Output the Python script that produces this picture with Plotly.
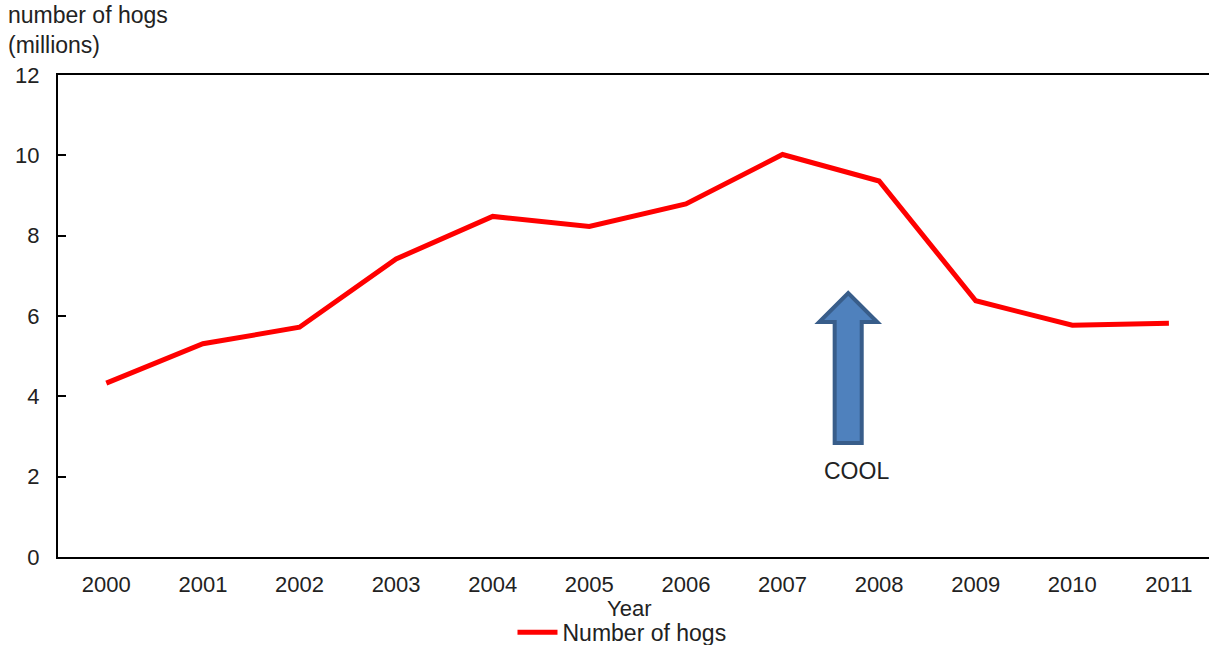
import plotly.graph_objects as go

# Hog inventory by year
years = ["2000", "2001", "2002", "2003", "2004", "2005",
         "2006", "2007", "2008", "2009", "2010", "2011"]
hogs_millions = [4.33, 5.31, 5.72, 7.42, 8.48, 8.23, 8.79, 10.02, 9.36, 6.38, 5.77, 5.82]

y_ticks = [0, 2, 4, 6, 8, 10, 12]

# COOL arrow marker (category index / millions)
arrow_x = 7.68
arrow_bottom = 2.84
arrow_head_base = 5.85
arrow_tip = 6.57
arrow_shaft_half = 0.14
arrow_head_half = 0.30
cool_label_y = 2.15

FONT = "Liberation Sans, Arial, sans-serif"
TXT = "#222222"

fig = go.Figure()
fig.add_trace(go.Scatter(
    x=list(range(len(years))), y=hogs_millions, mode="lines",
    name="Number of hogs",
    line=dict(color="#FF0000", width=5),
))

ax = arrow_x
path = (
    f"M {ax - arrow_shaft_half} {arrow_bottom} "
    f"L {ax - arrow_shaft_half} {arrow_head_base} "
    f"L {ax - arrow_head_half} {arrow_head_base} "
    f"L {ax} {arrow_tip} "
    f"L {ax + arrow_head_half} {arrow_head_base} "
    f"L {ax + arrow_shaft_half} {arrow_head_base} "
    f"L {ax + arrow_shaft_half} {arrow_bottom} Z"
)
fig.add_shape(type="path", path=path, xref="x", yref="y",
              fillcolor="#4F81BD", line=dict(color="#385D8A", width=4))

fig.add_annotation(x=ax + 0.09, y=cool_label_y, xref="x", yref="y",
                   text="COOL", showarrow=False,
                   font=dict(family=FONT, size=23, color=TXT))

fig.add_annotation(x=0, y=1, xref="paper", yref="paper",
                   text="number of hogs<br>(millions)", showarrow=False,
                   xanchor="left", yanchor="top", align="left",
                   xshift=-52, yshift=75,
                   font=dict(family=FONT, size=23, color=TXT))

fig.add_annotation(x=0.496, y=-0.106, xref="paper", yref="paper",
                   text="Year", showarrow=False,
                   xanchor="center", yanchor="middle",
                   font=dict(family=FONT, size=22, color=TXT))

fig.update_layout(
    width=1209, height=645,
    margin=dict(l=58, r=0, t=75, b=88, autoexpand=False),
    paper_bgcolor="white", plot_bgcolor="white",
    font=dict(family=FONT, size=22, color=TXT),
    showlegend=True,
    legend=dict(orientation="h", x=0.49, xanchor="center", y=-0.156, yanchor="middle",
                font=dict(family=FONT, size=23, color=TXT),
                itemwidth=40, tracegroupgap=0),
    xaxis=dict(
        range=[-0.5, 11.415], tickmode="array",
        tickvals=list(range(len(years))), ticktext=years,
        showline=True, linecolor="black", linewidth=2, mirror=True,
        showgrid=False, zeroline=False, ticks="",
        ticklabelstandoff=7,
        tickfont=dict(family=FONT, size=22, color=TXT),
    ),
    yaxis=dict(
        range=[0, 12], tickvals=y_ticks,
        showline=True, linecolor="black", linewidth=2,
        showgrid=False, zeroline=False,
        ticks="inside", ticklen=8, tickwidth=1.5, tickcolor="black",
        ticklabelstandoff=12,
        tickfont=dict(family=FONT, size=22, color=TXT),
    ),
)

fig.write_html("out.html")
